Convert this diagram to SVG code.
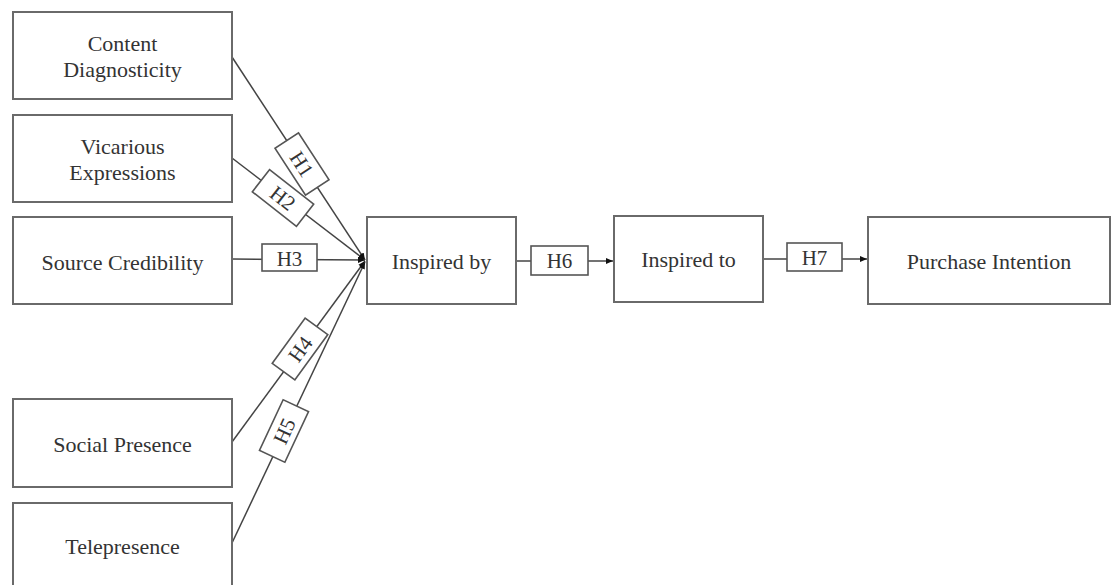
<svg xmlns="http://www.w3.org/2000/svg" width="1113" height="585" viewBox="0 0 1113 585">
<style>
.box{fill:#fff;stroke:#6a6a6a;stroke-width:2}
.hb{fill:#fff;stroke:#555;stroke-width:1.6}
.t{font-family:"Liberation Serif",serif;font-size:22px;fill:#333;text-anchor:middle}
.h{font-family:"Liberation Serif",serif;font-size:21px;fill:#333;text-anchor:middle}
.c{stroke:#444;stroke-width:1.5;fill:none}
</style>
<defs>
<marker id="ah" markerWidth="8" markerHeight="8" refX="7" refY="4" orient="auto" markerUnits="userSpaceOnUse">
<path d="M0,1 L7,4 L0,7 Z" fill="#111"/>
</marker>
</defs>
<rect width="1113" height="585" fill="#fff"/>
<g id="connectors">
<line class="c" x1="232" y1="57" x2="365" y2="260" marker-end="url(#ah)"/>
<line class="c" x1="232" y1="158" x2="365" y2="260" marker-end="url(#ah)"/>
<line class="c" x1="232" y1="259" x2="365" y2="260" marker-end="url(#ah)"/>
<line class="c" x1="232" y1="442" x2="365" y2="261" marker-end="url(#ah)"/>
<line class="c" x1="232" y1="543" x2="365" y2="262" marker-end="url(#ah)"/>
<line class="c" x1="516" y1="261" x2="613" y2="261" marker-end="url(#ah)"/>
<line class="c" x1="763" y1="259" x2="867" y2="259" marker-end="url(#ah)"/>
</g>
<g id="labels">
<g id="H1" transform="translate(302,164) rotate(57)"><rect class="hb" x="-28" y="-14" width="56" height="28"/><text class="h" x="0" y="7.5">H1</text></g>
<g id="H2" transform="translate(283,198) rotate(38)"><rect class="hb" x="-28" y="-14" width="56" height="28"/><text class="h" x="0" y="7.5">H2</text></g>
<g id="H3"><rect class="hb" x="262" y="244" width="55" height="27"/><text class="h" x="289.5" y="266">H3</text></g>
<g id="H4" transform="translate(300,349) rotate(-54)"><rect class="hb" x="-28" y="-14" width="56" height="28"/><text class="h" x="0" y="7.5">H4</text></g>
<g id="H5" transform="translate(284,431) rotate(-65)"><rect class="hb" x="-28" y="-14" width="56" height="28"/><text class="h" x="0" y="7.5">H5</text></g>
<g id="H6"><rect class="hb" x="531" y="246" width="57" height="29"/><text class="h" x="559.5" y="268">H6</text></g>
<g id="H7"><rect class="hb" x="787" y="243" width="55" height="28"/><text class="h" x="814.5" y="265">H7</text></g>
</g>
<g id="content-diagnosticity"><rect class="box" x="13" y="12" width="219" height="87"/><text class="t" x="122.5" y="51">Content</text><text class="t" x="122.5" y="77">Diagnosticity</text></g>
<g id="vicarious-expressions"><rect class="box" x="13" y="115" width="219" height="87"/><text class="t" x="122.5" y="154">Vicarious</text><text class="t" x="122.5" y="180">Expressions</text></g>
<g id="source-credibility"><rect class="box" x="13" y="217" width="219" height="87"/><text class="t" x="122.5" y="270">Source Credibility</text></g>
<g id="social-presence"><rect class="box" x="13" y="399" width="219" height="88"/><text class="t" x="122.5" y="452">Social Presence</text></g>
<g id="telepresence"><rect class="box" x="13" y="503" width="219" height="90"/><text class="t" x="122.5" y="554">Telepresence</text></g>
<g id="inspired-by"><rect class="box" x="367" y="217" width="149" height="87"/><text class="t" x="441.5" y="269">Inspired by</text></g>
<g id="inspired-to"><rect class="box" x="614" y="216" width="149" height="86"/><text class="t" x="688.5" y="267">Inspired to</text></g>
<g id="purchase-intention"><rect class="box" x="868" y="217" width="242" height="87"/><text class="t" x="989" y="269">Purchase Intention</text></g>
</svg>
